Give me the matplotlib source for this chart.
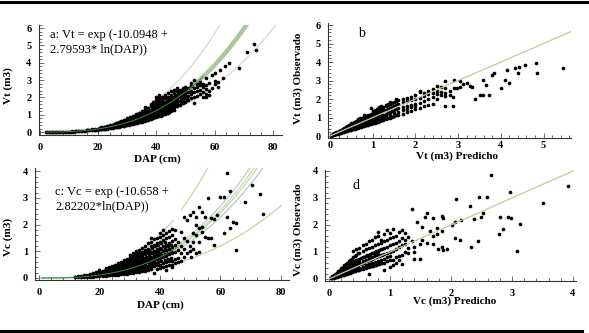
import numpy as np
import matplotlib
matplotlib.use("Agg")
import matplotlib.pyplot as plt
from matplotlib.lines import Line2D
from matplotlib.ticker import MultipleLocator

plt.rcParams["font.family"] = ["Liberation Serif", "DejaVu Serif"]

# model coefficients shown in the panels
A_B0, A_B1 = -10.0948, 2.79593
C_B0, C_B1 = -10.658, 2.82202

# panel a: observed Vt by DAP column (DAP, [Vt ...])
a_obs = [
    (2, [0.0]), (2.5, [0.0]), (3, [0.0]), (3.5, [0.01]), (4, [0.0]), (4.5, [0.01]),
    (5, [0.01]), (5.5, [0.0]), (6, [0.01]), (6.5, [0.01]), (7, [0.02]), (7.5, [0.01]),
    (8, [0.02]), (8.5, [0.02]), (9, [0.03]), (9.5, [0.02]), (10, [0.03]), (10.5, [0.03]),
    (11, [0.04]), (11.5, [0.03]), (12, [0.05]), (12.5, [0.04]), (13, [0.05]), (13.5, [0.06]),
    (14, [0.06]), (14.5, [0.07]), (15, [0.08]), (15.5, [0.07]),
    (16, [0.09, 0.11]), (17, [0.10, 0.13]), (18, [0.12, 0.15, 0.10]),
    (19, [0.14, 0.18, 0.11]), (20, [0.16, 0.20, 0.13]), (21, [0.18, 0.23, 0.15, 0.27]),
    (22, [0.21, 0.26, 0.17, 0.30]), (23, [0.24, 0.29, 0.20, 0.34]),
    (24, [0.27, 0.33, 0.22, 0.38]), (25, [0.30, 0.36, 0.25, 0.42]),
    (26, [0.34, 0.40, 0.28, 0.47, 0.52]), (27, [0.37, 0.44, 0.30, 0.52, 0.57]),
    (28, [0.41, 0.48, 0.34, 0.56, 0.62]), (29, [0.45, 0.52, 0.37, 0.61, 0.68]),
    (30, [0.48, 0.56, 0.40, 0.66, 0.74, 0.82]), (31, [0.53, 0.61, 0.44, 0.72, 0.80, 0.88]),
    (32, [0.58, 0.66, 0.48, 0.78, 0.86, 0.95]), (33, [0.62, 0.71, 0.52, 0.84, 0.93, 1.02]),
    (34, [0.67, 0.77, 0.56, 0.90, 1.00, 1.10]), (35, [0.72, 0.82, 0.60, 0.96, 1.08, 1.20]),
    (36, [0.78, 0.88, 0.66, 1.02, 1.15, 1.45, 1.28]), (37, [0.82, 0.95, 0.70, 1.10, 1.22, 1.38]),
    (38, [0.88, 1.00, 0.76, 1.16, 1.30, 1.50, 1.62]),
    (39, [0.94, 1.08, 0.82, 1.24, 1.40, 1.58, 1.72]),
    (40, [1.00, 1.15, 0.88, 1.32, 1.48, 1.66, 1.85, 2.05]),
    (41, [1.05, 1.22, 0.92, 1.40, 1.58, 1.78, 1.96, 2.12]),
    (42, [1.12, 1.30, 0.98, 1.48, 1.66, 1.88, 2.02]),
    (43, [1.20, 1.38, 1.05, 1.56, 1.75, 1.95, 2.15]),
    (44, [1.28, 1.46, 1.12, 1.64, 1.84, 2.05, 2.25]),
    (45, [1.35, 1.55, 1.20, 1.74, 1.95, 2.15, 2.40]),
    (46, [1.42, 1.62, 1.28, 1.82, 2.02, 2.25, 2.45]),
    (47, [1.50, 1.72, 1.95, 2.15, 2.35, 2.52]), (48, [1.58, 1.80, 2.05, 2.25, 2.45]),
    (49, [1.70, 1.90, 2.12, 2.35, 2.55]), (50, [1.75, 2.00, 2.22, 2.45, 2.62]),
    (51, [1.85, 2.10, 2.30, 2.52]), (52, [1.95, 2.18, 2.40, 2.65, 2.85]),
    (53, [1.66, 2.05, 2.30, 2.55, 3.00]), (54, [2.10, 2.35, 2.60, 2.80]),
    (55, [2.18, 2.45, 2.70, 2.90]), (56, [2.05, 2.30, 2.60, 2.75]),
    (57, [2.20, 2.05, 2.50, 2.70, 3.10]), (58, [2.14, 2.40, 2.85]), (59, [2.55, 3.29]),
    (60, [2.75, 2.95, 3.43]), (61, [2.60, 2.91]), (62, [3.58]), (63, [3.10]),
    (63.6, [3.80]), (65, [3.97]), (68.3, [3.68]), (71, [4.64]), (73.5, [5.09]), (74.2, [4.74]),
    # in-between columns of the dense cloud
    (20.5, [0.17, 0.22]), (21.5, [0.20, 0.25]), (22.5, [0.22, 0.28, 0.19]),
    (23.5, [0.26, 0.31, 0.22]), (24.5, [0.29, 0.35, 0.25]), (25.5, [0.32, 0.39, 0.27, 0.45]),
    (26.5, [0.36, 0.43, 0.30, 0.50]), (27.5, [0.39, 0.47, 0.33, 0.55]),
    (28.5, [0.43, 0.51, 0.36, 0.60]), (29.5, [0.47, 0.55, 0.40, 0.65]),
    (30.5, [0.50, 0.60, 0.43, 0.70, 0.78]), (31.5, [0.55, 0.65, 0.47, 0.76, 0.85]),
    (32.5, [0.60, 0.70, 0.50, 0.82, 0.90]), (33.5, [0.65, 0.75, 0.55, 0.88, 0.98]),
    (34.5, [0.70, 0.80, 0.60, 0.93, 1.05]), (35.5, [0.75, 0.86, 0.64, 1.00, 1.12]),
    (36.5, [0.80, 0.92, 0.70, 1.06, 1.20]), (37.5, [0.85, 0.98, 0.74, 1.14, 1.28]),
    (38.5, [0.90, 1.04, 0.80, 1.20, 1.36]), (39.5, [0.96, 1.10, 0.85, 1.28, 1.45]),
    (40.5, [1.02, 1.18, 0.90, 1.36, 1.55, 1.75]), (41.5, [1.08, 1.26, 0.95, 1.44, 1.62]),
    (42.5, [1.16, 1.34, 1.02, 1.52, 1.72]), (43.5, [1.24, 1.42, 1.10, 1.60, 1.80]),
    (44.5, [1.30, 1.50, 1.16, 1.70, 1.90]), (45.5, [1.40, 1.60, 1.25, 1.80, 2.00]),
    (46.5, [1.48, 1.68, 1.88, 2.10]), (47.5, [1.55, 1.78, 2.00, 2.20]),
    (48.5, [1.65, 1.85, 2.10, 2.30]), (49.5, [1.75, 1.95, 2.20]), (50.5, [1.85, 2.05, 2.30]),
]

# panel b: predicted Vt column -> observed Vt
b_obs = [
    (0.02, [0.0, 0.02]), (0.05, [0.03, 0.06, 0.08]), (0.08, [0.05, 0.1, 0.12]),
    (0.1, [0.07, 0.12, 0.15]), (0.15, [0.1, 0.16, 0.2, 0.12]), (0.2, [0.14, 0.2, 0.26, 0.18]),
    (0.25, [0.18, 0.25, 0.32, 0.22]), (0.3, [0.22, 0.3, 0.38, 0.27, 0.34]),
    (0.35, [0.25, 0.35, 0.44, 0.3, 0.4]), (0.4, [0.28, 0.4, 0.5, 0.34, 0.46, 0.56]),
    (0.45, [0.32, 0.45, 0.56, 0.38, 0.5, 0.62]), (0.5, [0.35, 0.5, 0.62, 0.42, 0.56, 0.7]),
    (0.55, [0.38, 0.55, 0.68, 0.46, 0.62, 0.76]), (0.6, [0.42, 0.6, 0.74, 0.5, 0.67, 0.82]),
    (0.65, [0.46, 0.64, 0.8, 0.55, 0.72, 0.9]), (0.7, [0.5, 0.68, 0.86, 0.6, 0.78, 0.95]),
    (0.75, [0.52, 0.72, 0.92, 0.63, 0.82, 1.0]),
    (0.8, [0.55, 0.78, 0.96, 0.66, 0.88, 1.05, 1.12]),
    (0.85, [0.6, 0.82, 1.0, 0.7, 0.92, 1.1]), (0.9, [0.62, 0.86, 1.05, 0.74, 0.96, 1.15]),
    (0.95, [0.66, 0.9, 1.08, 0.78, 1.0, 1.2, 1.5]),
    (1.0, [0.7, 0.95, 1.12, 0.82, 1.05, 1.25, 1.35]),
    (1.05, [0.72, 1.0, 1.18, 0.88, 1.3, 1.4]), (1.1, [0.76, 1.02, 1.22, 0.9, 1.35, 1.45]),
    (1.15, [0.8, 1.06, 1.28, 0.95, 1.42, 1.55]), (1.2, [0.85, 1.1, 1.32, 1.0, 1.48, 1.6]),
    (1.25, [0.88, 1.15, 1.38, 1.05, 1.55]), (1.3, [0.92, 1.2, 1.42, 1.1, 1.6, 1.7]),
    (1.35, [0.95, 1.25, 1.48, 1.65, 1.75]), (1.4, [1.0, 1.3, 1.52, 1.15, 1.72, 1.82]),
    (1.45, [1.05, 1.35, 1.55, 1.78]), (1.5, [1.08, 1.4, 1.62, 1.25, 1.85]),
    (1.55, [1.12, 1.45, 1.68, 1.9, 2.0]), (1.6, [1.15, 1.5, 1.75, 1.3, 1.95]),
    (1.7, [1.2, 1.55, 1.82, 1.4, 2.0]), (1.8, [1.3, 1.6, 1.9, 2.05, 1.45]),
    (1.9, [1.35, 1.7, 1.95, 2.1, 1.55]), (2.0, [1.45, 1.75, 2.0, 2.2, 1.6]),
    (2.1, [1.5, 1.8, 2.05, 2.4, 2.45]), (2.2, [1.6, 1.9, 2.15, 2.3]),
    (2.3, [1.7, 2.0, 2.25, 2.45]), (2.4, [1.75, 2.1, 2.3, 2.55]),
    (2.5, [2.0, 2.25, 2.45, 2.7]), (2.6, [2.2, 2.4, 2.65]),
    (2.7, [1.62, 2.3, 2.58, 2.99, 2.15]), (2.8, [2.2, 2.45]), (2.87, [2.13, 1.62]),
    (2.9, [3.03, 2.6]), (2.97, [2.58]), (3.04, [2.63, 2.97]), (3.12, [2.81]), (3.2, [2.88]),
    (3.28, [2.70]), (3.32, [2.63]), (3.4, [2.02]), (3.51, [2.22]), (3.58, [3.03]),
    (3.59, [2.22]), (3.65, [2.76]), (3.72, [2.22]), (3.79, [3.30]), (3.83, [3.42]),
    (4.0, [2.61]), (4.1, [3.03]), (4.15, [3.57]), (4.18, [2.88]), (4.33, [3.66]),
    (4.4, [3.42]), (4.43, [3.75]), (4.57, [3.84]), (4.82, [3.96]), (4.84, [3.42]),
    (5.46, [3.69]),
    # in-between columns of the dense wedge
    (0.125, [0.09, 0.13, 0.17]), (0.175, [0.12, 0.18, 0.23]), (0.225, [0.16, 0.22, 0.29]),
    (0.275, [0.2, 0.27, 0.35]), (0.325, [0.23, 0.32, 0.41]), (0.375, [0.27, 0.37, 0.47]),
    (0.425, [0.3, 0.42, 0.53]), (0.475, [0.34, 0.47, 0.59]), (0.525, [0.37, 0.52, 0.65]),
    (0.575, [0.4, 0.57, 0.71]), (0.625, [0.44, 0.62, 0.77]), (0.675, [0.48, 0.66, 0.83]),
    (0.725, [0.51, 0.7, 0.89]), (0.775, [0.54, 0.75, 0.94]), (0.825, [0.57, 0.8, 0.98]),
    (0.875, [0.61, 0.84, 1.03]), (0.925, [0.64, 0.88, 1.07]), (0.975, [0.68, 0.92, 1.1]),
    (1.025, [0.71, 0.97, 1.15, 1.28]), (1.075, [0.74, 1.01, 1.2]),
    (1.125, [0.78, 1.04, 1.25]), (1.175, [0.82, 1.08, 1.3]), (1.225, [0.86, 1.12, 1.35]),
]

# panel c: observed Vc by DAP column
c_obs = [
    (12, [0.03, 0.05]), (13, [0.04, 0.06]), (14, [0.05, 0.07, 0.03]),
    (15, [0.05, 0.08, 0.1]), (16, [0.06, 0.09, 0.12, 0.04]), (17, [0.07, 0.1, 0.14, 0.05]),
    (18, [0.08, 0.12, 0.16, 0.05, 0.2]), (19, [0.09, 0.13, 0.18, 0.06, 0.22]),
    (20, [0.1, 0.15, 0.2, 0.07, 0.25, 0.3]), (21, [0.11, 0.16, 0.22, 0.08, 0.28]),
    (22, [0.12, 0.18, 0.25, 0.08, 0.32, 0.36]), (23, [0.13, 0.2, 0.28, 0.1, 0.35, 0.4]),
    (24, [0.15, 0.22, 0.3, 0.1, 0.38, 0.45]), (25, [0.16, 0.24, 0.33, 0.12, 0.42, 0.5, 0.28]),
    (26, [0.18, 0.27, 0.36, 0.12, 0.46, 0.55, 0.3]),
    (27, [0.2, 0.3, 0.4, 0.14, 0.5, 0.6, 0.35]),
    (28, [0.22, 0.32, 0.44, 0.15, 0.55, 0.66, 0.38]),
    (29, [0.24, 0.35, 0.48, 0.16, 0.6, 0.72, 0.42]),
    (30, [0.26, 0.38, 0.5, 0.18, 0.64, 0.78, 0.86, 0.44]),
    (31, [0.28, 0.4, 0.54, 0.2, 0.68, 0.82, 0.95, 0.47]),
    (32, [0.3, 0.44, 0.58, 0.22, 0.72, 0.88, 1.0, 0.5]),
    (33, [0.32, 0.48, 0.62, 0.24, 0.78, 0.92, 1.05, 0.55]),
    (34, [0.35, 0.5, 0.66, 0.26, 0.82, 0.98, 1.12, 0.58]),
    (35, [0.38, 0.54, 0.7, 0.28, 0.88, 1.05, 1.2, 0.62]),
    (36, [0.4, 0.58, 0.75, 0.3, 0.92, 1.1, 1.3, 0.66]),
    (37, [0.42, 0.6, 0.8, 0.32, 0.98, 1.18, 1.35, 0.7, 1.5]),
    (38, [0.45, 0.65, 0.85, 0.2, 1.02, 1.25, 1.45, 0.75]),
    (39, [0.48, 0.7, 0.9, 0.35, 1.08, 1.3, 1.5, 0.78]),
    (40, [0.5, 0.72, 0.95, 0.38, 1.12, 1.35, 1.55, 0.82, 1.7]),
    (41, [0.55, 0.78, 1.0, 0.4, 1.18, 1.42, 1.62, 1.78]),
    (42, [0.58, 0.82, 1.05, 0.45, 1.25, 1.5, 1.7, 0.3]),
    (43, [0.62, 0.88, 1.1, 0.48, 1.32, 1.55, 1.75]),
    (44, [0.65, 0.92, 1.15, 0.5, 1.38, 1.61, 1.85, 0.4]),
    (45, [0.7, 0.98, 1.22, 0.55, 1.45, 1.8]), (46, [1.36, 1.05, 0.6, 0.75]),
    (47, [1.73, 1.2, 0.93, 0.65]), (48, [2.3, 0.8, 1.1, 1.5]), (49, [2.17, 1.4, 0.95]),
    (50, [2.36, 1.2, 1.0]), (50.4, [0.8]), (51, [2.48, 1.67, 1.36, 1.1]),
    (52, [1.99, 2.3, 1.61, 0.93]), (53, [1.86, 1.36, 0.99, 2.67]), (54, [1.92, 1.73, 2.48]),
    (55, [1.55, 2.3]), (56, [2.98, 1.51]), (57, [1.51, 2.24]), (58, [1.24, 2.21]),
    (59, [2.36]), (60, [3.05]), (61, [3.05, 1.67]), (62, [2.3, 3.92]), (63, [1.88, 3.26]),
    (64, [2.11]), (65, [1.05, 2.05]), (68, [2.83]), (70.5, [3.48]), (73, [3.13]), (74, [2.40]),
    # in-between columns of the dense cloud
    (20.5, [0.12, 0.18, 0.23]), (21.5, [0.13, 0.2, 0.26]), (22.5, [0.15, 0.22, 0.3]),
    (23.5, [0.17, 0.25, 0.33]), (24.5, [0.19, 0.27, 0.36]), (25.5, [0.2, 0.3, 0.4, 0.46]),
    (26.5, [0.22, 0.33, 0.44, 0.5]), (27.5, [0.25, 0.36, 0.47, 0.56]),
    (28.5, [0.27, 0.4, 0.52, 0.62]), (29.5, [0.3, 0.42, 0.56, 0.68]),
    (30.5, [0.32, 0.45, 0.6, 0.72]), (31.5, [0.34, 0.48, 0.63, 0.78]),
    (32.5, [0.37, 0.52, 0.67, 0.82]), (33.5, [0.4, 0.55, 0.72, 0.88]),
    (34.5, [0.43, 0.6, 0.76, 0.94]), (35.5, [0.46, 0.63, 0.8, 1.0]),
    (36.5, [0.5, 0.67, 0.86, 1.05]), (37.5, [0.53, 0.72, 0.92, 1.12]),
    (38.5, [0.57, 0.78, 0.98, 1.18]), (39.5, [0.6, 0.82, 1.02, 1.24]),
    (40.5, [0.64, 0.86, 1.08, 1.3]), (41.5, [0.68, 0.9, 1.12, 1.36]),
    (42.5, [0.72, 0.95, 1.18]), (43.5, [0.76, 1.0, 1.25]),
]

# panel d: predicted Vc column -> observed Vc
d_obs = [
    (0.03, [0.02, 0.05]), (0.05, [0.03, 0.07, 0.1]), (0.08, [0.05, 0.1, 0.14]),
    (0.1, [0.06, 0.12, 0.18, 0.08]), (0.13, [0.08, 0.15, 0.22, 0.1]),
    (0.15, [0.1, 0.17, 0.25, 0.12, 0.3]), (0.18, [0.12, 0.2, 0.28, 0.15, 0.35]),
    (0.2, [0.13, 0.22, 0.32, 0.16, 0.4]), (0.23, [0.15, 0.25, 0.36, 0.18, 0.45]),
    (0.25, [0.16, 0.28, 0.4, 0.2, 0.5]), (0.28, [0.18, 0.3, 0.44, 0.22, 0.55]),
    (0.3, [0.2, 0.32, 0.48, 0.25, 0.6, 0.4]), (0.33, [0.22, 0.35, 0.5, 0.28, 0.65, 0.42]),
    (0.35, [0.24, 0.38, 0.55, 0.3, 0.7, 0.45]), (0.38, [0.26, 0.4, 0.58, 0.32, 0.75, 0.48]),
    (0.4, [0.28, 0.44, 0.62, 0.34, 0.8, 0.52, 1.05]),
    (0.43, [0.3, 0.46, 0.65, 0.36, 0.85, 0.55]),
    (0.45, [0.32, 0.5, 0.7, 0.38, 0.9, 0.58, 1.1]),
    (0.48, [0.34, 0.52, 0.72, 0.4, 0.95, 0.6]),
    (0.5, [0.35, 0.55, 0.75, 0.42, 0.98, 0.62, 1.15]),
    (0.55, [0.38, 0.6, 0.8, 0.46, 1.05, 0.68, 1.25]),
    (0.6, [0.42, 0.65, 0.85, 0.5, 1.1, 0.72, 1.3]),
    (0.65, [0.45, 0.7, 0.9, 0.55, 1.15, 0.78, 1.4, 0.2]),
    (0.7, [0.48, 0.75, 0.95, 0.6, 1.2, 0.82, 1.45]),
    (0.75, [0.5, 0.8, 1.0, 0.62, 1.25, 0.88, 1.55]),
    (0.8, [0.55, 0.85, 1.05, 0.66, 1.3, 0.92, 1.6, 1.75]),
    (0.85, [0.58, 0.9, 1.1, 0.7, 1.35, 1.45]),
    (0.9, [0.6, 0.92, 1.15, 0.75, 1.4, 1.65, 0.35]),
    (0.95, [0.65, 0.98, 1.2, 0.8, 1.45, 1.8]),
    (1.0, [0.7, 1.0, 1.25, 0.85, 1.5, 1.7, 0.45]),
    (1.05, [0.72, 1.05, 1.3, 1.55, 1.85, 0.5]), (1.1, [0.8, 1.1, 1.35, 1.6, 0.6]),
    (1.15, [0.85, 1.2, 1.4, 1.75, 0.7]), (1.2, [0.9, 1.25, 1.5, 1.8, 0.55]),
    (1.25, [1.0, 1.3, 1.45, 1.7]), (1.3, [0.95, 1.15, 1.55]), (1.36, [1.42, 2.58]),
    (1.4, [1.2, 1.0, 0.75]), (1.44, [2.12]), (1.49, [0.73, 1.3]), (1.52, [1.94, 1.44]),
    (1.57, [2.28]), (1.6, [2.43, 1.34]), (1.66, [1.79]), (1.7, [1.6, 1.3]), (1.71, [2.25]),
    (1.77, [1.88, 1.65]), (1.79, [1.10]), (1.85, [2.33, 1.79, 1.2]), (1.87, [2.25, 1.07]),
    (1.93, [1.10]), (2.01, [2.0]), (2.07, [2.12, 1.51]), (2.08, [2.95]), (2.15, [1.44]),
    (2.16, [2.19]), (2.31, [2.72]), (2.32, [1.20]), (2.38, [2.21]), (2.45, [1.42]),
    (2.46, [3.03]), (2.5, [2.31]), (2.53, [2.43]), (2.59, [3.03]), (2.66, [3.85]),
    (2.78, [1.67]), (2.8, [2.31]), (2.85, [1.84]), (2.94, [2.28]), (2.96, [3.21]),
    (2.99, [2.26]), (3.09, [1.05]), (3.13, [2.04]), (3.51, [2.80]), (3.92, [3.44]),
    # in-between columns of the dense cloud
    (0.065, [0.04, 0.08, 0.12]), (0.115, [0.07, 0.13, 0.19]), (0.165, [0.11, 0.18, 0.26]),
    (0.215, [0.14, 0.23, 0.33]), (0.265, [0.17, 0.29, 0.41]), (0.315, [0.21, 0.34, 0.49]),
    (0.365, [0.25, 0.39, 0.56]), (0.415, [0.29, 0.45, 0.63]), (0.465, [0.33, 0.51, 0.7]),
    (0.525, [0.37, 0.57, 0.78]), (0.575, [0.4, 0.62, 0.82]), (0.625, [0.44, 0.67, 0.88]),
    (0.675, [0.47, 0.72, 0.92]), (0.725, [0.49, 0.77, 0.98]), (0.775, [0.53, 0.82, 1.02]),
    (0.825, [0.56, 0.87, 1.08]), (0.875, [0.6, 0.9, 1.12]),
]


def expand(cols):
    xs, ys = [], []
    for x, vals in cols:
        for v in vals:
            xs.append(x)
            ys.append(v)
    return np.array(xs), np.array(ys)


def style(ax, xmaj, xmin, ymaj, ymin, pad):
    for s in ("top", "right"):
        ax.spines[s].set_visible(False)
    for s in ("left", "bottom"):
        ax.spines[s].set_linewidth(0.8)
        ax.spines[s].set_color("#333333")
    ax.xaxis.set_major_locator(MultipleLocator(xmaj))
    ax.xaxis.set_minor_locator(MultipleLocator(xmin))
    ax.yaxis.set_major_locator(MultipleLocator(ymaj))
    ax.yaxis.set_minor_locator(MultipleLocator(ymin))
    ax.tick_params(which="both", direction="in", color="#555555", width=0.6)
    ax.tick_params(which="major", length=3.5)
    ax.tick_params(which="minor", length=2)
    ax.tick_params(axis="x", pad=pad)
    ax.tick_params(axis="y", pad=5)
    for lab in ax.get_xticklabels() + ax.get_yticklabels():
        lab.set_fontweight("bold")
        lab.set_fontsize(7.5)


def fit(b0, b1, d):
    return np.exp(b0 + b1 * np.log(d))


fig = plt.figure(figsize=(5.89, 3.33), dpi=100)
lab_kw = dict(fontsize=8, fontweight="bold")
pt_kw = dict(s=7, c="black", linewidths=0, zorder=2)

# ---- panel a
ax = fig.add_axes([0.0654, 0.5946, 0.4126, 0.3312])
ax.set_xlim(-0.5, 83)
ax.set_ylim(-0.17, 6.2)
d = np.linspace(20, 82, 200)
ax.plot(d, fit(A_B0, A_B1, d) * 1.47, color="#d2d2d2", lw=0.8, zorder=1)
ax.plot(d, fit(A_B0, A_B1, d) * 0.69, color="#d2d2d2", lw=0.8, zorder=1)
d = np.linspace(30, 72, 200)
ax.plot(d, fit(A_B0, A_B1, d), color="#a9c99b", lw=3.2, zorder=1)
x, y = expand(a_obs)
ax.scatter(x, y, **pt_kw)
d = np.linspace(2, 56, 200)
ax.plot(d, fit(A_B0, A_B1, d), color="#3f8a3f", lw=0.7, zorder=3)
ax.text(3.4, 5.95, "a: Vt = exp (-10.0948 +\n2.79593* ln(DAP))", fontsize=9,
        va="top", linespacing=1.3)
style(ax, 20, 4, 1, 0.2, 6)
ax.set_xlabel("DAP (cm)", **lab_kw)
ax.set_ylabel("Vt (m3)", **lab_kw)
ax.xaxis.set_label_coords(0.488, -0.172)
ax.yaxis.set_label_coords(-0.105, 0.45)

# ---- panel b
ax = fig.add_axes([0.5567, 0.586, 0.4132, 0.3444])
ax.set_xlim(-0.05, 5.65)
ax.set_ylim(-0.1, 6.1)
x, y = expand(b_obs)
ax.scatter(x, y, **pt_kw)
ref = np.array([0, 5.65])
ax.plot(ref, ref, color="#c8c89c", lw=0.9, zorder=3)
ax.text(0.66, 5.9, "b", fontsize=10, va="top")
style(ax, 1, 0.2, 1, 0.2, 2)
ax.set_xlabel("Vt (m3) Predicho", **lab_kw)
ax.set_ylabel("Vt (m3) Observado", **lab_kw)
ax.xaxis.set_label_coords(0.53, -0.115)
ax.yaxis.set_label_coords(-0.102, 0.52)

# ---- panel c
ax = fig.add_axes([0.0595, 0.1588, 0.4304, 0.3352])
ax.set_xlim(-1.3, 82.5)
ax.set_ylim(-0.08, 4.1)
d = np.linspace(1, 80, 300)
ax.plot(d, fit(C_B0, C_B1, d) * 0.49, color="#cfd0a4", lw=0.9, zorder=1)
for lo, hi in ((30.5, 44.3), (47.2, 56)):
    dd = np.linspace(lo, hi, 60)
    ax.plot(dd, fit(C_B0, C_B1, dd) * 2.07, color="#cfd0a4", lw=0.9, zorder=1)
for fac, col in ((1.10, "#a6d2c6"), (1.04, "#d6d0a6"), (1.0, "#b5d4a4"), (0.93, "#9fcbc4")):
    ax.plot(d, fit(C_B0, C_B1, d) * fac, color=col, lw=0.8, zorder=1)
x, y = expand(c_obs)
ax.scatter(x, y, **pt_kw)
d = np.linspace(1, 46, 200)
ax.plot(d, fit(C_B0, C_B1, d), color="#3f8a3f", lw=0.7, zorder=3)
ax.text(5.3, 3.45, "c: Vc = exp (-10.658 +\n2.82202*ln(DAP))", fontsize=9,
        va="top", linespacing=1.3)
style(ax, 20, 4, 1, 0.2, 6)
ax.set_xlabel("DAP (cm)", **lab_kw)
ax.set_ylabel("Vc (m3)", **lab_kw)
ax.xaxis.set_label_coords(0.493, -0.178)
ax.yaxis.set_label_coords(-0.088, 0.39)

# ---- panel d
ax = fig.add_axes([0.5513, 0.1573, 0.4267, 0.3333])
ax.set_xlim(-0.07, 4.05)
ax.set_ylim(-0.06, 4.05)
x, y = expand(d_obs)
ax.scatter(x, y, **pt_kw)
ref = np.array([0, 4.0])
ax.plot(ref, ref, color="#c8c89c", lw=0.9, zorder=3)
ax.text(0.39, 3.7, "d", fontsize=10, va="top")
style(ax, 1, 0.2, 1, 0.2, 6)
ax.set_xlabel("Vc (m3) Predicho", **lab_kw)
ax.set_ylabel("Vc (m3) Observado", **lab_kw)
ax.xaxis.set_label_coords(0.518, -0.145)
ax.yaxis.set_label_coords(-0.0875, 0.456)

# black rules above and below the figure block
fig.add_artist(Line2D([0, 1], [0.994, 0.994], color="black", lw=2.2))
fig.add_artist(Line2D([0, 0.988], [0.006, 0.006], color="black", lw=2.2))

fig.savefig("out.png", dpi=100)
